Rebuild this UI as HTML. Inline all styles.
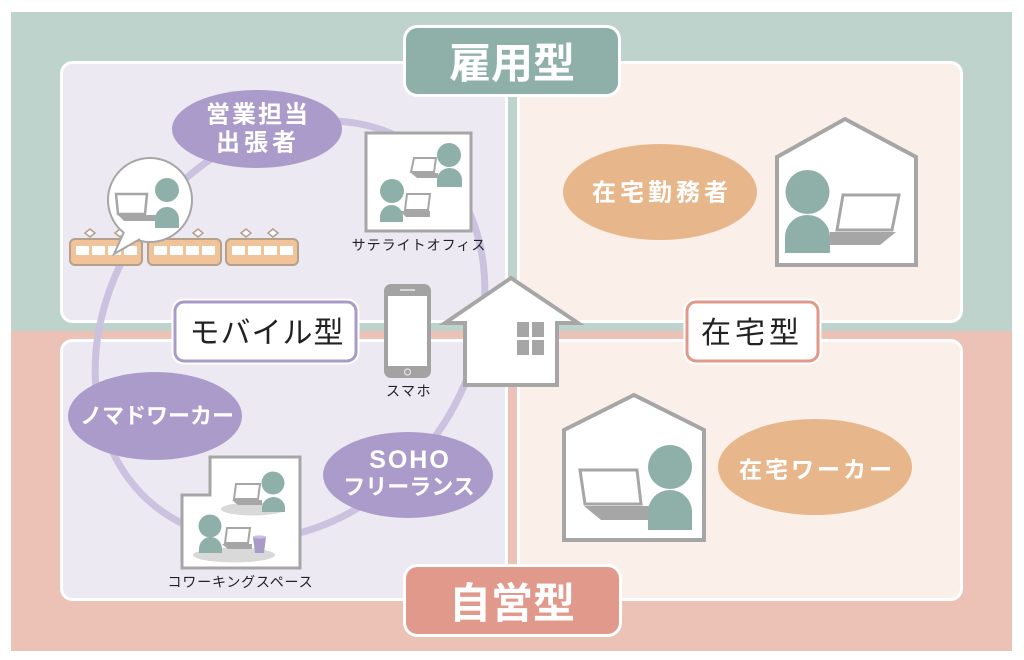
<!DOCTYPE html>
<html><head><meta charset="utf-8"><style>
html,body{margin:0;padding:0;background:#fff;}
svg{display:block;}
text{font-family:"Liberation Sans","Noto Sans CJK JP",sans-serif;}
</style></head><body>
<svg width="1024" height="660" viewBox="0 0 1024 660" xmlns="http://www.w3.org/2000/svg">
<rect width="1024" height="660" fill="#fff"/>
<rect x="11" y="12" width="1001" height="319" fill="#bfd3cd"/>
<rect x="11" y="331" width="1001" height="320" fill="#ecc2b6"/>

<!-- panels -->
<rect x="61.5" y="62.5" width="445" height="259" rx="11" fill="#ece9f3" stroke="#fff" stroke-width="3"/>
<rect x="518.5" y="62.5" width="443" height="259" rx="11" fill="#fbf0e9" stroke="#fff" stroke-width="3"/>
<rect x="61.5" y="340.5" width="445" height="259" rx="11" fill="#ece9f3" stroke="#fff" stroke-width="3"/>
<rect x="518.5" y="340.5" width="443" height="259" rx="11" fill="#fbf0e9" stroke="#fff" stroke-width="3"/>

<!-- top / bottom labels -->
<rect x="404.5" y="26.5" width="215" height="69" rx="13" fill="#8fb0a8" stroke="#fff" stroke-width="3"/>
<text x="512" y="78" text-anchor="middle" font-size="42" font-weight="bold" fill="#fff">雇用型</text>
<rect x="404.5" y="565.5" width="216" height="70" rx="13" fill="#e0998a" stroke="#fff" stroke-width="3"/>
<text x="512" y="618" text-anchor="middle" font-size="42" font-weight="bold" fill="#fff">自営型</text>

<!-- arc -->
<ellipse cx="290" cy="330" rx="222" ry="180" transform="rotate(-55 290 330)" fill="none" stroke="#cac2de" stroke-width="7"/>

<!-- bubbles -->
<ellipse cx="257" cy="129" rx="85" ry="39" fill="#ab9bca"/>
<text x="258" y="122.5" text-anchor="middle" font-size="24" font-weight="bold" fill="#fff" letter-spacing="2">営業担当</text>
<text x="258" y="150.5" text-anchor="middle" font-size="24" font-weight="bold" fill="#fff" letter-spacing="4">出張者</text>

<ellipse cx="155" cy="416" rx="87" ry="44" fill="#ab9bca"/>
<text x="157" y="423.5" text-anchor="middle" font-size="22" font-weight="bold" fill="#fff">ノマドワーカー</text>

<ellipse cx="408" cy="475" rx="85" ry="43" fill="#ab9bca"/>
<text x="410" y="468" text-anchor="middle" font-size="25" font-weight="bold" fill="#fff" letter-spacing="2">SOHO</text>
<text x="409" y="494.5" text-anchor="middle" font-size="22" font-weight="bold" fill="#fff">フリーランス</text>

<ellipse cx="660" cy="192" rx="97" ry="48" fill="#e8b68b"/>
<text x="662" y="200.5" text-anchor="middle" font-size="24" font-weight="bold" fill="#fff" letter-spacing="4">在宅勤務者</text>

<ellipse cx="815" cy="467" rx="97" ry="48" fill="#e8b68b"/>
<text x="817" y="477.5" text-anchor="middle" font-size="23" font-weight="bold" fill="#fff" letter-spacing="3">在宅ワーカー</text>

<!-- trains -->
<g stroke="#b3a08d" stroke-width="1.5" fill="#fff">
  <polygon points="85,233 90,229 95,233 90,237"/><polygon points="115,233 120,229 125,233 120,237"/>
  <polygon points="165,233 170,229 175,233 170,237"/><polygon points="193,233 198,229 203,233 198,237"/>
  <polygon points="241,233 246,229 251,233 246,237"/><polygon points="268,233 273,229 278,233 273,237"/>
</g>
<g fill="#f0c398" stroke="#b3a08d" stroke-width="2">
  <rect x="70" y="239" width="72" height="26" rx="5"/>
  <rect x="148" y="239" width="73" height="26" rx="5"/>
  <rect x="226" y="239" width="72" height="26" rx="5"/>
</g>
<g fill="#fff">
  <rect x="76" y="246" width="13" height="9"/><rect x="92" y="246" width="13" height="9"/><rect x="108" y="246" width="13" height="9"/><rect x="124" y="246" width="13" height="9"/>
  <rect x="154" y="246" width="13" height="9"/><rect x="170" y="246" width="13" height="9"/><rect x="186" y="246" width="13" height="9"/><rect x="202" y="246" width="13" height="9"/>
  <rect x="232" y="246" width="13" height="9"/><rect x="248" y="246" width="13" height="9"/><rect x="264" y="246" width="13" height="9"/><rect x="280" y="246" width="13" height="9"/>
</g>

<!-- speech bubble -->
<circle cx="150" cy="200" r="42" fill="#fff" stroke="#a6a6a6" stroke-width="2"/>
<path d="M124,232 L114,254 L140,239" fill="#fff" stroke="#a6a6a6" stroke-width="2" stroke-linejoin="miter"/>
<polygon points="116,194 147,194 145,214 118,214" fill="#fff" stroke="#a6a6a6" stroke-width="2.5"/>
<polygon points="118,215 157,215 157,221 124,221" fill="#a6a6a6"/>
<circle cx="167" cy="190" r="12" fill="#8fb0a8"/>
<path d="M155,228 V219 A12,12 0 0 1 179,219 V228 Z" fill="#8fb0a8"/>

<!-- satellite office -->
<rect x="366" y="133" width="105" height="98" fill="#fff" stroke="#a6a6a6" stroke-width="3"/>
<polygon points="414,158 436,158 434,172 411,172" fill="#fff" stroke="#a6a6a6" stroke-width="2"/>
<polygon points="411,173 438,173 438,178 417,178" fill="#a6a6a6"/>
<circle cx="449" cy="155" r="12" fill="#8fb0a8"/>
<path d="M437,187 V180 A12.5,12 0 0 1 462,180 V187 Z" fill="#8fb0a8"/>
<polygon points="407,194 430,194 428,210 405,210" fill="#fff" stroke="#a6a6a6" stroke-width="2"/>
<polygon points="400,211 430,211 430,217 406,217" fill="#a6a6a6"/>
<circle cx="392" cy="191" r="12" fill="#8fb0a8"/>
<path d="M380,222 V217 A11.5,12 0 0 1 403,217 V222 Z" fill="#8fb0a8"/>
<text x="419" y="250" text-anchor="middle" font-size="14" fill="#222" letter-spacing="1">サテライトオフィス</text>

<!-- phone -->
<rect x="384" y="284" width="47" height="94" rx="7" fill="#a3a3a3"/>
<rect x="388" y="296" width="39" height="70" fill="#fff"/>
<line x1="400" y1="290" x2="415" y2="290" stroke="#d6d6d6" stroke-width="2"/>
<circle cx="407.5" cy="372" r="3" fill="none" stroke="#e0e0e0" stroke-width="1.3"/>
<text x="409" y="396" text-anchor="middle" font-size="14" fill="#222" letter-spacing="1.5">スマホ</text>

<!-- center house -->
<polygon points="445,323 511,278 578,323 557,323 557,385 465,385 465,323" fill="#fff" stroke="#a6a6a6" stroke-width="4" stroke-linejoin="miter"/>
<g fill="#a6a6a6">
  <rect x="517" y="322" width="12" height="15"/><rect x="532" y="322" width="12" height="15"/>
  <rect x="517" y="340" width="12" height="15"/><rect x="532" y="340" width="12" height="15"/>
</g>

<!-- top-right house -->
<polygon points="777,157 845,119 916,157 916,265 777,265" fill="#fff" stroke="#a6a6a6" stroke-width="4"/>
<polygon points="843,195 899,195 892,230 837,230" fill="#fff" stroke="#a6a6a6" stroke-width="3"/>
<polygon points="830,232 896,232 880,245 830,245" fill="#a6a6a6"/>
<circle cx="807.5" cy="192" r="22" fill="#8fb0a8"/>
<path d="M785,253 V237 A22.5,22 0 0 1 830,237 V253 Z" fill="#8fb0a8"/>

<!-- bottom-right house -->
<polygon points="564,430 634,395 704,430 704,540 564,540" fill="#fff" stroke="#a6a6a6" stroke-width="4"/>
<polygon points="580,470 637,470 641,504 585,504" fill="#fff" stroke="#a6a6a6" stroke-width="3"/>
<polygon points="584,506 649,506 649,520 601,520" fill="#a6a6a6"/>
<circle cx="670" cy="467" r="22" fill="#8fb0a8"/>
<path d="M648,530 V512 A22,22 0 0 1 692,512 V530 Z" fill="#8fb0a8"/>

<!-- coworking -->
<polygon points="210,457 300,457 300,568 182,568 182,495 210,495" fill="#fff" stroke="#a6a6a6" stroke-width="3"/>
<ellipse cx="253" cy="509" rx="32" ry="6.5" fill="#d9d9d9"/>
<ellipse cx="234" cy="555" rx="41" ry="7.5" fill="#d9d9d9"/>
<polygon points="236,484 260,484 258,499 234,499" fill="#fff" stroke="#a6a6a6" stroke-width="2"/>
<polygon points="232,500 262,500 262,505 238,505" fill="#a6a6a6"/>
<circle cx="273" cy="483" r="11.5" fill="#8fb0a8"/>
<path d="M262,512 V508 A11.5,11 0 0 1 285,508 V512 Z" fill="#8fb0a8"/>
<polygon points="227,528 250,528 248,543 225,543" fill="#fff" stroke="#a6a6a6" stroke-width="2"/>
<polygon points="222,544 252,544 252,549 228,549" fill="#a6a6a6"/>
<circle cx="210" cy="526" r="11.5" fill="#8fb0a8"/>
<path d="M199,553 V549 A11.5,12 0 0 1 222,549 V553 Z" fill="#8fb0a8"/>
<polygon points="253,537 266,537 264,553 255,553" fill="#a99bc8"/>
<ellipse cx="259.5" cy="537" rx="6.5" ry="1.6" fill="#c9bfe0"/>
<text x="240.5" y="587" text-anchor="middle" font-size="14" fill="#222" letter-spacing="0.8">コワーキングスペース</text>

<!-- middle labels -->
<rect x="175" y="302" width="181" height="59" rx="9" fill="#fff" stroke="#fff" stroke-width="7"/>
<rect x="175" y="302" width="181" height="59" rx="9" fill="#fff" stroke="#a99bc8" stroke-width="3"/>
<text x="267" y="343" text-anchor="middle" font-size="30" fill="#222" letter-spacing="1">モバイル型</text>

<rect x="687" y="302" width="131" height="59" rx="9" fill="#fff" stroke="#fff" stroke-width="7"/>
<rect x="687" y="302" width="131" height="59" rx="9" fill="#fff" stroke="#e0998a" stroke-width="3"/>
<text x="752" y="343" text-anchor="middle" font-size="30" fill="#222" letter-spacing="4">在宅型</text>
</svg>
</body></html>
